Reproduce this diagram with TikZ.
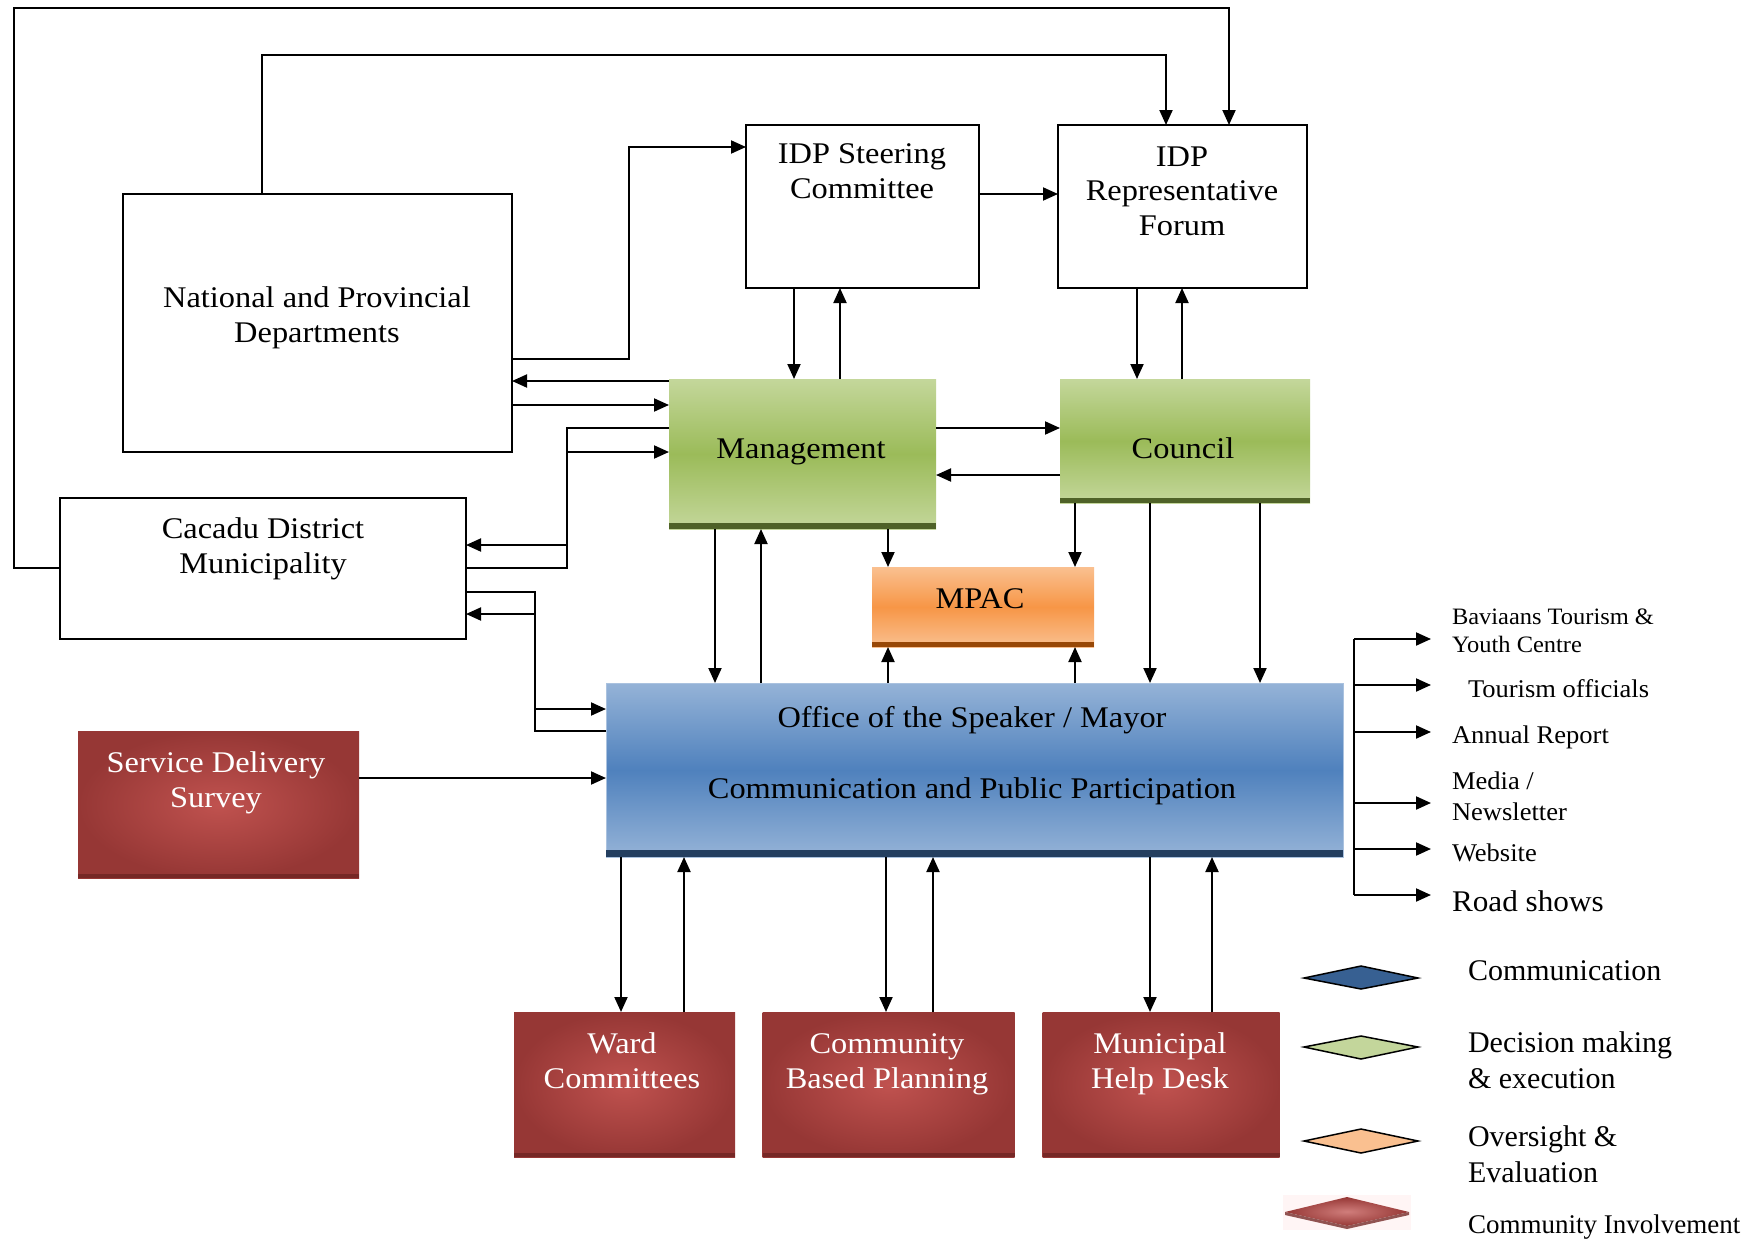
\documentclass[tikz,border=0pt]{standalone}
\usepackage{fontspec}
\setmainfont{Liberation Serif}
\newfontfamily\boxfont[FakeStretch=1.08]{Liberation Serif}
\newfontfamily\listfont[FakeStretch=1.04]{Liberation Serif}
\usetikzlibrary{arrows.meta}
\definecolor{gTop}{RGB}{196,215,155}
\definecolor{gMid}{RGB}{155,187,89}
\definecolor{gDark}{RGB}{79,98,40}
\definecolor{oTop}{RGB}{250,192,144}
\definecolor{oMid}{RGB}{247,150,70}
\definecolor{oDark}{RGB}{152,72,7}
\definecolor{bTop}{RGB}{149,179,215}
\definecolor{bMid}{RGB}{79,129,189}
\definecolor{bDark}{RGB}{36,63,96}
\definecolor{rIn}{RGB}{192,82,79}
\definecolor{rOut}{RGB}{150,55,53}
\definecolor{rDark}{RGB}{118,40,38}
\definecolor{lgBlue}{RGB}{55,96,146}
\definecolor{lgGreen}{RGB}{195,214,155}
\definecolor{lgOrange}{RGB}{250,192,144}
\begin{document}
\begin{tikzpicture}[x=1pt,y=-1pt,
  every node/.style={inner sep=0pt, outer sep=0pt},
  plainbox/.style={draw=black, line width=2pt, fill=white},
  greenbox/.style={top color=gTop, bottom color=gTop, middle color=gMid},
  orangebox/.style={top color=oTop, bottom color=oTop, middle color=oMid},
  bluebox/.style={top color=bTop, bottom color=bTop, middle color=bMid, draw=bTop!80!white, line width=1pt},
  redbox/.style={inner color=rIn, outer color=rOut},
  arr/.style={line width=2pt, -{Triangle[length=15pt,width=13pt]}},
  ln/.style={line width=2pt},
  boxtxt/.style={font=\boxfont\fontsize{30}{34.5}\selectfont, align=center, anchor=base},
  whitetxt/.style={boxtxt, text=white},
  listtxt/.style={font=\listfont\fontsize{25.5}{31}\selectfont, align=left, anchor=base west},
  legtxt/.style={font=\fontsize{30}{36}\selectfont, align=left, anchor=base west},
]
\useasboundingbox (0,0) rectangle (1758,1239);
\fill[white] (0,0) rectangle (1758,1239);

% ---------- boxes ----------
\node[plainbox, minimum width=233pt, minimum height=163pt] (steer) at (862.5,206.5) {};
\node[plainbox, minimum width=249pt, minimum height=163pt] (rep) at (1182.5,206.5) {};
\node[plainbox, minimum width=389pt, minimum height=258pt] (np) at (317.5,323) {};
\node[plainbox, minimum width=406pt, minimum height=141pt] (cac) at (263,568.5) {};

\node[greenbox, minimum width=267pt, minimum height=150pt] (mgmt) at (802.5,454) {};
\fill[gDark] (mgmt.south west) rectangle ([yshift=6pt]mgmt.south east);
\node[greenbox, minimum width=250pt, minimum height=124pt] (council) at (1185,441) {};
\fill[gDark] (council.south west) rectangle ([yshift=5pt]council.south east);

\node[orangebox, minimum width=222pt, minimum height=80pt] (mpac) at (983,607) {};
\fill[oDark] (mpac.south west) rectangle ([yshift=5pt]mpac.south east);

\node[bluebox, minimum width=737pt, minimum height=174pt] (off) at (974.5,770) {};
\fill[bDark] (off.south west) rectangle ([yshift=7pt]off.south east);

\node[redbox, minimum width=281pt, minimum height=147pt] (sds) at (218.5,804.5) {};
\fill[rDark] (sds.south west) rectangle ([yshift=4pt]sds.south east);
\node[redbox, minimum width=221pt, minimum height=145pt] (ward) at (624.5,1084.5) {};
\fill[rDark] (ward.south west) rectangle ([yshift=4pt]ward.south east);
\node[redbox, minimum width=252pt, minimum height=145pt] (cbp) at (888.5,1084.5) {};
\fill[rDark] (cbp.south west) rectangle ([yshift=4pt]cbp.south east);
\node[redbox, minimum width=237pt, minimum height=145pt] (mhd) at (1161,1084.5) {};
\fill[rDark] (mhd.south west) rectangle ([yshift=4pt]mhd.south east);

% ---------- box texts (anchor = baseline of last line) ----------
\node[boxtxt] (steerT) at (862,198) {IDP Steering\\Committee};
\node[boxtxt] (repT) at (1182,235) {IDP\\Representative\\Forum};
\node[boxtxt] (npT) at (317,342) {National and Provincial\\Departments};
\node[boxtxt] (cacT) at (263,573) {Cacadu District\\Municipality};
\node[boxtxt] (mgmtT) at (801,458) {Management};
\node[boxtxt] (councilT) at (1183,458) {Council};
\node[boxtxt] (mpacT) at (980,608) {MPAC};
\node[boxtxt] (offT1) at (972,727) {Office of the Speaker / Mayor};
\node[boxtxt] (offT2) at (972,798) {Communication and Public Participation};
\node[whitetxt] (sdsT) at (216,807) {Service Delivery\\Survey};
\node[whitetxt] (wardT) at (622,1088) {Ward\\Committees};
\node[whitetxt] (cbpT) at (887,1088) {Community\\Based Planning};
\node[whitetxt] (mhdT) at (1160,1088) {Municipal\\Help Desk};

% ---------- connectors ----------
\draw[arr] (cac.west |- 0,568) -| (14,8) -| (rep.north -| 1229,0);
\draw[arr] (np.north -| 262,0) -- (262,55) -| (rep.north -| 1166,0);
\draw[arr] (np.east |- 0,359) -| (629,147) -- (steer.west |- 0,147);
\draw[arr] (steer.east |- 0,194) -- (rep.west |- 0,194);
\draw[arr] (mgmt.west |- 0,381) -- (np.east |- 0,381);
\draw[arr] (np.east |- 0,405) -- (mgmt.west |- 0,405);
\draw[arr] (mgmt.west |- 0,428) -| (567,545) -- (cac.east |- 0,545);
\draw[arr] (cac.east |- 0,568) -| (567,452) -- (mgmt.west |- 0,452);
\draw[arr] (cac.east |- 0,592) -| (535,709) -- (off.west |- 0,709);
\draw[arr] (off.west |- 0,731) -| (535,614) -- (cac.east |- 0,614);
\draw[arr] (sds.east |- 0,778) -- (off.west |- 0,778);

\draw[arr] (steer.south -| 794,0) -- (mgmt.north -| 794,0);
\draw[arr] (mgmt.north -| 840,0) -- (steer.south -| 840,0);
\draw[arr] (rep.south -| 1137,0) -- (council.north -| 1137,0);
\draw[arr] (council.north -| 1182,0) -- (rep.south -| 1182,0);
\draw[arr] (mgmt.east |- 0,428) -- (council.west |- 0,428);
\draw[arr] (council.west |- 0,475) -- (mgmt.east |- 0,475);

\draw[arr] (mgmt.south -| 888,0) -- (mpac.north -| 888,0);
\draw[arr] (council.south -| 1075,0) -- (mpac.north -| 1075,0);
\draw[arr] (mgmt.south -| 715,0) -- (off.north -| 715,0);
\draw[arr] (off.north -| 761,0) -- (mgmt.south -| 761,0);
\draw[arr] (off.north -| 888,0) -- (mpac.south -| 888,0);
\draw[arr] (off.north -| 1075,0) -- (mpac.south -| 1075,0);
\draw[arr] (council.south -| 1150,0) -- (off.north -| 1150,0);
\draw[arr] (council.south -| 1260,0) -- (off.north -| 1260,0);

\draw[arr] (off.south -| 621,0) -- (ward.north -| 621,0);
\draw[arr] (ward.north -| 684,0) -- (off.south -| 684,0);
\draw[arr] (off.south -| 886,0) -- (cbp.north -| 886,0);
\draw[arr] (cbp.north -| 933,0) -- (off.south -| 933,0);
\draw[arr] (off.south -| 1150,0) -- (mhd.north -| 1150,0);
\draw[arr] (mhd.north -| 1212,0) -- (off.south -| 1212,0);

% ---------- right list ----------
\foreach \i/\y in {1/639,2/685,3/732,4/803,5/849,6/895}{
  \coordinate (b\i) at (1354,\y);
  \coordinate (a\i) at (1431,\y);
}
\draw[ln] (b1) -- (b6);
\foreach \i in {1,...,6}{\draw[arr] (b\i) -- (a\i);}

\node[listtxt, font=\listfont\fontsize{23.5}{28}\selectfont] (bav) at (1452,652) {Baviaans Tourism \&\\Youth Centre};
\node[listtxt] (tour) at (1468,697) {Tourism officials};
\node[listtxt] (ann) at (1452,743) {Annual Report};
\node[listtxt] (media) at (1452,820) {Media /\\Newsletter};
\node[listtxt] (web) at (1452,861) {Website};
\node[listtxt, font=\listfont\fontsize{30}{36}\selectfont] (road) at (1452,911) {Road shows};

% ---------- legend ----------
\filldraw[fill=lgBlue, draw=black, line width=1.5pt] (1304,978) -- (1361,966) -- (1418,978) -- (1361,989) -- cycle;
\filldraw[fill=lgGreen, draw=black, line width=1.5pt] (1304,1047) -- (1361,1036) -- (1418,1047) -- (1361,1059) -- cycle;
\filldraw[fill=lgOrange, draw=black, line width=1.5pt] (1304,1141) -- (1361,1129) -- (1418,1141) -- (1361,1153) -- cycle;
\fill[red!4] (1283,1195) rectangle (1411,1230);
\shade[inner color=rIn!75!white, outer color=rOut] (1285,1212) -- (1347,1197) -- (1409,1212) -- (1347,1226) -- cycle;
\fill[rDark!80] (1285,1212) -- (1347,1226) -- (1409,1212) -- (1409,1215) -- (1347,1229) -- (1285,1215) -- cycle;

\node[legtxt] (lg1) at (1468,980) {Communication};
\node[legtxt] (lg2) at (1468,1088) {Decision making\\\& execution};
\node[legtxt] (lg3) at (1468,1182) {Oversight \&\\Evaluation};
\node[legtxt, font=\fontsize{27}{30}\selectfont] (lg4) at (1468,1233) {Community Involvement};
\end{tikzpicture}
\end{document}
